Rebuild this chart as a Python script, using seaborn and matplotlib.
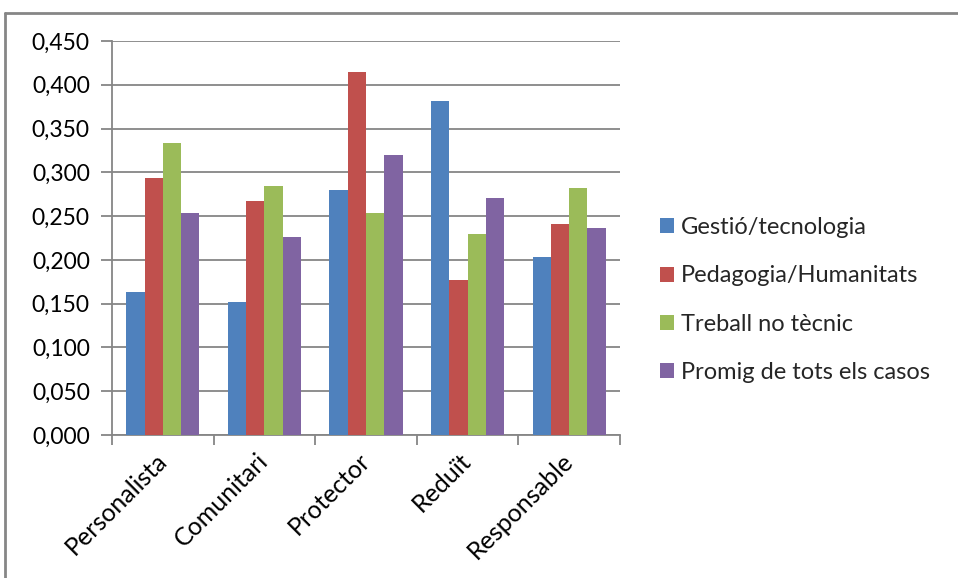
import matplotlib
matplotlib.use("Agg")
import matplotlib.pyplot as plt
from matplotlib.lines import Line2D
from matplotlib.ticker import FuncFormatter, MultipleLocator, FixedLocator
import seaborn as sns
import pandas as pd

categories = ["Personalista", "Comunitari", "Protector", "Reduït", "Responsable"]
series_names = ["Gestió/tecnologia", "Pedagogia/Humanitats", "Treball no tècnic",
                "Promig de tots els casos"]
gestio = [0.163, 0.152, 0.280, 0.381, 0.203]
pedagogia = [0.294, 0.267, 0.415, 0.177, 0.241]
treball = [0.334, 0.284, 0.254, 0.230, 0.282]
promig = [0.253, 0.226, 0.320, 0.271, 0.236]
colors = ["#4F81BD", "#C0504D", "#9BBB59", "#8064A2"]

rows = []
for name, vals in zip(series_names, [gestio, pedagogia, treball, promig]):
    for cat, v in zip(categories, vals):
        rows.append({"Categoria": cat, "Grup": name, "Valor": v})
df = pd.DataFrame(rows)

sns.set_theme(style="white")
plt.rcParams["font.family"] = ["Lato", "DejaVu Sans"]

fig = plt.figure(figsize=(9.58, 5.78), dpi=100)
ax = fig.add_axes([112 / 958, 1 - 435 / 578, (620 - 112) / 958, (435 - 41) / 578])

sns.barplot(data=df, x="Categoria", y="Valor", hue="Grup", order=categories,
            hue_order=series_names, palette=colors, width=0.72, gap=0,
            saturation=1, ax=ax, zorder=3, linewidth=0)

grid_c = "#868686"
fs = 16.5
ax.set_ylim(0, 0.45)
ax.set_xlim(-0.5, len(categories) - 0.5)
ax.yaxis.set_major_locator(MultipleLocator(0.05))
ax.yaxis.set_major_formatter(FuncFormatter(lambda v, p: f"{v:.3f}".replace(".", ",")))
ax.grid(axis="y", color=grid_c, linewidth=1.3, zorder=0)
ax.set_axisbelow(True)
for s in ["top", "right"]:
    ax.spines[s].set_visible(False)
for s in ["left", "bottom"]:
    ax.spines[s].set_color(grid_c)
    ax.spines[s].set_linewidth(1.3)
ax.set_xlabel("")
ax.set_ylabel("")

ax.tick_params(axis="y", which="major", left=True, length=8, width=1.3, color=grid_c,
               labelsize=fs, labelcolor="black", pad=8)
ax.tick_params(axis="x", which="major", bottom=False, labelsize=18, labelcolor="black", pad=10)
ax.xaxis.set_minor_locator(FixedLocator([i - 0.5 for i in range(len(categories) + 1)]))
ax.tick_params(axis="x", which="minor", bottom=True, length=7, width=1.3, color=grid_c)
for lbl in ax.get_xticklabels():
    lbl.set_rotation(45)
    lbl.set_ha("right")
    lbl.set_va("center")
    lbl.set_rotation_mode("anchor")

handles, labels = ax.get_legend_handles_labels()
ax.legend_.remove()
fig.legend(handles, labels, loc="center left", bbox_to_anchor=(660 / 958, 1 - 300 / 578),
           frameon=False, fontsize=17, handlelength=0.6, handleheight=0.6,
           handletextpad=0.3, labelspacing=1.15, borderpad=0, borderaxespad=0)

# outer frame: only the left and top edges fall inside the image
fx = 4.5 / 958
fy = 1 - 12.5 / 578
fig.add_artist(Line2D([fx, fx], [0, fy], transform=fig.transFigure, color=grid_c, linewidth=2))
fig.add_artist(Line2D([fx, 1.01], [fy, fy], transform=fig.transFigure, color=grid_c, linewidth=2))

fig.savefig("out.png", dpi=100)
